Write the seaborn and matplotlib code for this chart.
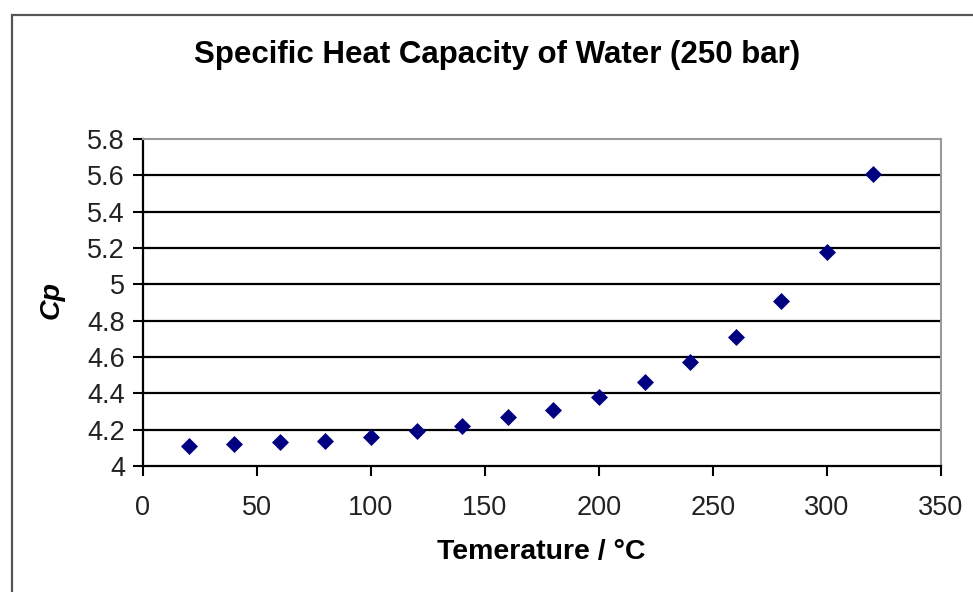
import matplotlib
matplotlib.use("Agg")
import matplotlib.pyplot as plt
import seaborn as sns
import pandas as pd
from matplotlib.patches import Rectangle

temperature = [20, 40, 60, 80, 100, 120, 140, 160, 180, 200, 220, 240, 260, 280, 300, 320]
cp = [4.11, 4.12, 4.13, 4.14, 4.16, 4.19, 4.22, 4.27, 4.31, 4.38, 4.46, 4.57, 4.71, 4.91, 5.18, 5.61]
x_ticks = [0, 50, 100, 150, 200, 250, 300, 350]
y_ticks = [4, 4.2, 4.4, 4.6, 4.8, 5, 5.2, 5.4, 5.6, 5.8]
y_tick_labels = ["4", "4.2", "4.4", "4.6", "4.8", "5", "5.2", "5.4", "5.6", "5.8"]

df = pd.DataFrame({"Temperature": temperature, "Cp": cp})

sns.set_theme(style="white")
plt.rcParams["font.family"] = ["Liberation Sans", "DejaVu Sans"]

W, H = 973, 592
fig = plt.figure(figsize=(W / 100, H / 100), dpi=100)
left, right, top, bottom = 143, 941, 139, 466
ax = fig.add_axes([left / W, 1 - bottom / H, (right - left) / W, (bottom - top) / H])

# outer chart-area frame
fig.patches.append(Rectangle((12 / W, -0.1), 1.2, 1 - 14.5 / H + 0.1, transform=fig.transFigure,
                             fill=False, edgecolor="#555555", linewidth=1.6, zorder=0))

sns.scatterplot(data=df, x="Temperature", y="Cp", ax=ax, marker="D", s=75,
                color="#000080", edgecolor="#000080", linewidth=0, zorder=3)

ax.set_xlim(0, 350)
ax.set_ylim(4, 5.8)
ax.set_xticks(x_ticks)
ax.set_xticklabels([str(v) for v in x_ticks])
ax.set_yticks(y_ticks)
ax.set_yticklabels(y_tick_labels)

for yv in y_ticks[1:-1]:
    ax.axhline(yv, color="black", linewidth=1.6, zorder=1)

for side in ["top", "right"]:
    ax.spines[side].set_color("#999999")
    ax.spines[side].set_linewidth(1.5)
for side in ["left", "bottom"]:
    ax.spines[side].set_color("black")
    ax.spines[side].set_linewidth(1.6)

ax.tick_params(axis="both", which="major", direction="out", length=7, width=1.5,
               color="black", labelsize=19.5, labelcolor="#222222", left=True, bottom=True)
ax.tick_params(axis="x", pad=14)
ax.tick_params(axis="y", pad=6)

ax.set_xlabel("Temerature / °C", fontsize=20.5, fontweight="bold", color="black")
ax.xaxis.set_label_coords((541 - left) / (right - left), -(552 - bottom) / (bottom - top))
ax.set_ylabel("Cp", fontsize=20.5, fontweight="bold", style="italic", color="black")
ax.yaxis.set_label_coords(-(left - 52) / (right - left), (bottom - 300) / (bottom - top))
ax.xaxis.label.set_va("center")
ax.yaxis.label.set_va("center")

fig.text(497 / W, 1 - 55 / H, "Specific Heat Capacity of Water (250 bar)", ha="center", va="center",
         fontsize=22.5, fontweight="bold", color="black")

fig.savefig("out.png", dpi=100, facecolor="white")
